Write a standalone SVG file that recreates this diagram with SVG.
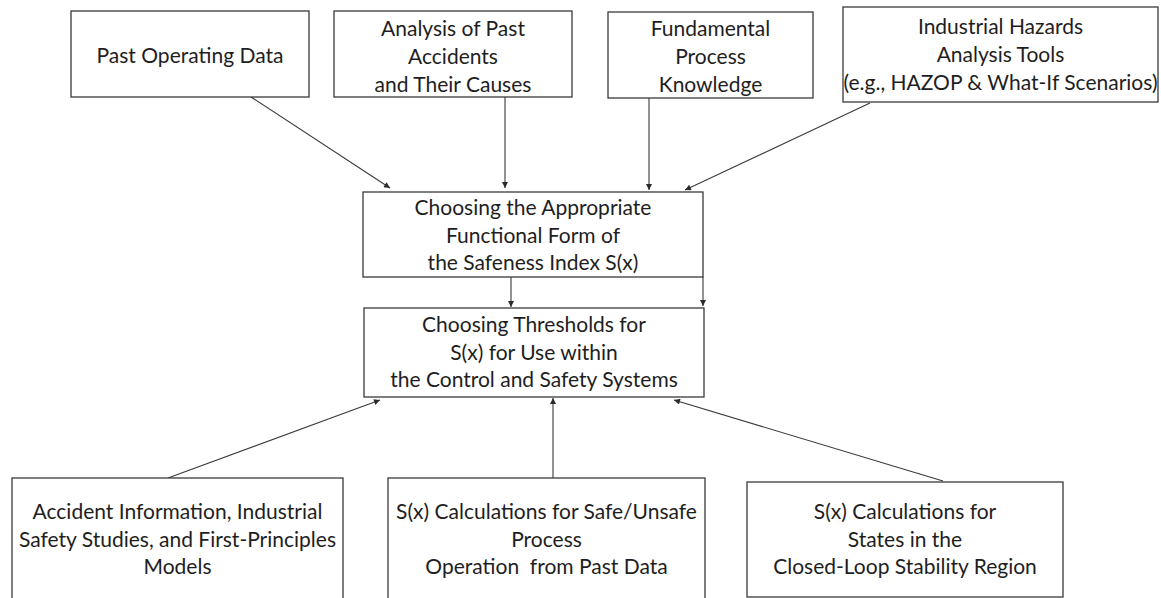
<svg xmlns="http://www.w3.org/2000/svg" width="1161" height="598" viewBox="0 0 1161 598">
  <style>
    .box { fill: #ffffff; stroke: #3a3a3a; stroke-width: 1.3; }
    .lbl { font-family: Lato, "Open Sans", "Liberation Sans", sans-serif; font-size: 21px; fill: #1e1e1e; text-anchor: middle; }
    .link { stroke: #3a3a3a; stroke-width: 1.1; fill: none; marker-end: url(#tip); }
  </style>
  <defs>
    <marker id="tip" viewBox="0 0 10 10" refX="10" refY="5" markerWidth="7" markerHeight="6" markerUnits="userSpaceOnUse" orient="auto">
      <path d="M0,0 L10,5 L0,10 z" fill="#2a2a2a"/>
    </marker>
  </defs>
  <rect width="1161" height="598" fill="#ffffff"/>

  <g id="connectors">
    <line class="link" x1="251" y1="97" x2="390" y2="188"/>
    <line class="link" x1="505" y1="97" x2="505" y2="188"/>
    <line class="link" x1="649" y1="98" x2="649" y2="190"/>
    <line class="link" x1="870" y1="103" x2="685" y2="190"/>
    <line class="link" x1="511" y1="277" x2="511" y2="307"/>
    <line class="link" x1="703" y1="277" x2="703" y2="306"/>
    <line class="link" x1="168" y1="478" x2="380" y2="400"/>
    <line class="link" x1="553" y1="478" x2="553" y2="398"/>
    <line class="link" x1="943" y1="481" x2="674" y2="400"/>
  </g>

  <g id="past-operating-data">
    <rect class="box" x="71" y="11" width="238" height="86"/>
    <text class="lbl" x="190" y="63">Past Operating Data</text>
  </g>

  <g id="past-accidents">
    <rect class="box" x="334" y="11" width="238" height="86"/>
    <text class="lbl" x="453" y="36">Analysis of Past</text>
    <text class="lbl" x="453" y="64">Accidents</text>
    <text class="lbl" x="453" y="92">and Their Causes</text>
  </g>

  <g id="process-knowledge">
    <rect class="box" x="608" y="12" width="205" height="86"/>
    <text class="lbl" x="710.5" y="36">Fundamental</text>
    <text class="lbl" x="710.5" y="64">Process</text>
    <text class="lbl" x="710.5" y="92">Knowledge</text>
  </g>

  <g id="hazards-tools">
    <rect class="box" x="843" y="7" width="315" height="95"/>
    <text class="lbl" x="1000.5" y="34">Industrial Hazards</text>
    <text class="lbl" x="1000.5" y="62">Analysis Tools</text>
    <text class="lbl" x="1000.5" y="90">(e.g., HAZOP &amp; What-If Scenarios)</text>
  </g>

  <g id="functional-form">
    <rect class="box" x="363" y="192" width="340" height="85"/>
    <text class="lbl" x="533" y="215">Choosing the Appropriate</text>
    <text class="lbl" x="533" y="243">Functional Form of</text>
    <text class="lbl" x="533" y="270">the Safeness Index S(x)</text>
  </g>

  <g id="thresholds">
    <rect class="box" x="364" y="308" width="340" height="89"/>
    <text class="lbl" x="534" y="332">Choosing Thresholds for</text>
    <text class="lbl" x="534" y="360">S(x) for Use within</text>
    <text class="lbl" x="534" y="387">the Control and Safety Systems</text>
  </g>

  <g id="accident-information">
    <rect class="box" x="12" y="478" width="331" height="130"/>
    <text class="lbl" x="177.5" y="519">Accident Information, Industrial</text>
    <text class="lbl" x="177.5" y="546.5">Safety Studies, and First-Principles</text>
    <text class="lbl" x="177.5" y="573.5">Models</text>
  </g>

  <g id="past-data-calculations">
    <rect class="box" x="388" y="478" width="317" height="130"/>
    <text class="lbl" x="546.5" y="519">S(x) Calculations for Safe/Unsafe</text>
    <text class="lbl" x="546.5" y="546.5">Process</text>
    <text class="lbl" x="546.5" y="573.5" xml:space="preserve">Operation  from Past Data</text>
  </g>

  <g id="stability-region-calculations">
    <rect class="box" x="747" y="482" width="316" height="115"/>
    <text class="lbl" x="905" y="519">S(x) Calculations for</text>
    <text class="lbl" x="905" y="546.5">States in the</text>
    <text class="lbl" x="905" y="573.5">Closed-Loop Stability Region</text>
  </g>
</svg>
